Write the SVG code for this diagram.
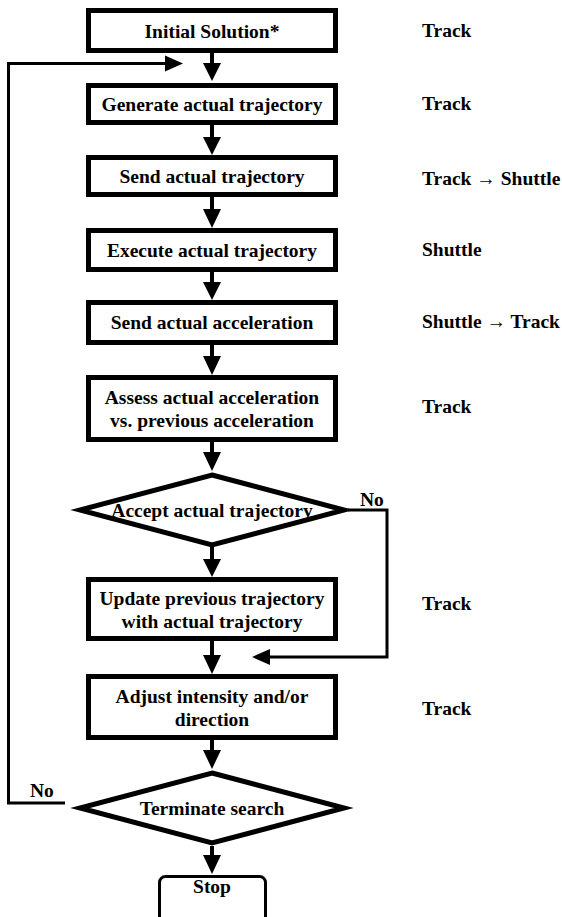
<svg xmlns="http://www.w3.org/2000/svg" width="562" height="917" viewBox="0 0 562 917">
<style>
.box{fill:#fff;stroke:#000;stroke-width:5}
.dia{fill:#fff;stroke:#000;stroke-width:5}
.stop{fill:#fff;stroke:#000;stroke-width:3}
.t{text-anchor:middle}
.c{fill:none;stroke:#000;stroke-width:4}
.c3{fill:none;stroke:#000;stroke-width:3}
.ah{fill:#000}
</style>
<rect width="562" height="917" fill="#fff"/>
<g font-family="Liberation Serif, serif" font-weight="bold" font-size="19.5" fill="#000">
<g id="connectors">
<path class="c" d="M212,53 V64"/><polygon class="ah" points="203,63 221,63 212,81"/>
<path class="c" d="M212,125 V138"/><polygon class="ah" points="203,137 221,137 212,155"/>
<path class="c" d="M212,197 V210"/><polygon class="ah" points="203,209 221,209 212,228"/>
<path class="c" d="M212,272 V283"/><polygon class="ah" points="203,282 221,282 212,300"/>
<path class="c" d="M212,345 V357"/><polygon class="ah" points="203,356 221,356 212,375"/>
<path class="c" d="M212,442 V453"/><polygon class="ah" points="203,452 221,452 212,471"/>
<path class="c" d="M212,546 V560"/><polygon class="ah" points="203,559 221,559 212,577"/>
<path class="c" d="M212,641 V656"/><polygon class="ah" points="203,655 221,655 212,674"/>
<path class="c" d="M212,740 V751"/><polygon class="ah" points="203,750 221,750 212,769"/>
<path class="c" d="M212,846 V856"/><polygon class="ah" points="203,855 221,855 212,874"/>
<path class="c3" d="M348,510 H387 V657 H268"/><polygon class="ah" points="270,649 270,665 252,657"/>
<path class="c3" d="M65,803 H8.5 V63.5 H167"/><polygon class="ah" points="165,55.5 165,71.5 183,63.5"/>
</g>
<g id="n1"><rect class="box" x="88.5" y="10.5" width="247" height="40"/><text class="t" x="212" y="37.5">Initial Solution*</text></g>
<g id="n2"><rect class="box" x="88.5" y="85.5" width="247" height="37"/><text class="t" x="212" y="110.5">Generate actual trajectory</text></g>
<g id="n3"><rect class="box" x="88.5" y="157.5" width="247" height="37"/><text class="t" x="212" y="182.5">Send actual trajectory</text></g>
<g id="n4"><rect class="box" x="88.5" y="230.5" width="247" height="39"/><text class="t" x="212" y="256.5">Execute actual trajectory</text></g>
<g id="n5"><rect class="box" x="88.5" y="302.5" width="247" height="40"/><text class="t" x="212" y="329">Send actual acceleration</text></g>
<g id="n6"><rect class="box" x="88.5" y="377.5" width="247" height="62"/><text class="t" x="212" y="404">Assess actual acceleration</text><text class="t" x="212" y="427">vs. previous acceleration</text></g>
<g id="n7"><polygon class="dia" points="212,475 344,510 212,545 80,510"/><text class="t" x="212" y="517">Accept actual trajectory</text></g>
<g id="n8"><rect class="box" x="88.5" y="579.5" width="247" height="59"/><text class="t" x="212" y="605">Update previous trajectory</text><text class="t" x="212" y="628">with actual trajectory</text></g>
<g id="n9"><rect class="box" x="88.5" y="676.5" width="247" height="61"/><text class="t" x="212" y="703">Adjust intensity and/or</text><text class="t" x="212" y="726">direction</text></g>
<g id="n10"><polygon class="dia" points="212,773 344,808 212,843 80,808"/><text class="t" x="212" y="815">Terminate search</text></g>
<g id="n11"><rect class="stop" x="159.5" y="876.5" width="106" height="48" rx="6"/><text class="t" x="212" y="893">Stop</text></g>
<g id="labels">
<text x="422" y="37">Track</text>
<text x="422" y="110">Track</text>
<text x="422" y="185">Track → Shuttle</text>
<text x="422" y="256">Shuttle</text>
<text x="422" y="328">Shuttle → Track</text>
<text x="422" y="413">Track</text>
<text x="422" y="610">Track</text>
<text x="422" y="715">Track</text>
<text x="360" y="506">No</text>
<text x="30" y="797">No</text>
</g>
</g>
</svg>
